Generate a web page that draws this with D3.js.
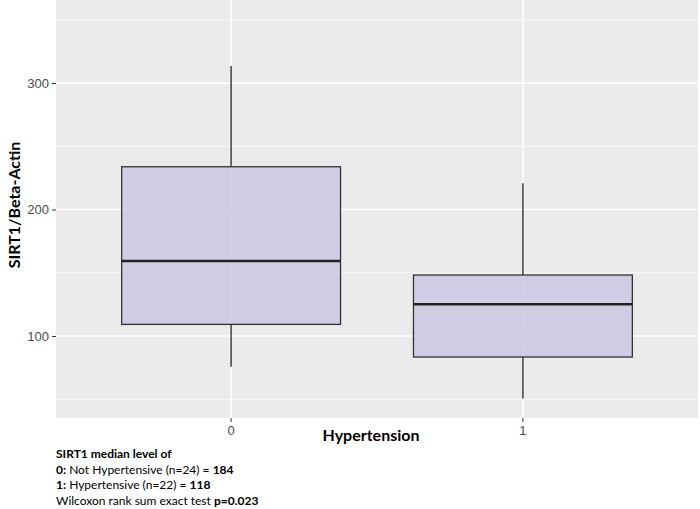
<!DOCTYPE html>
<html>
<head>
<meta charset="utf-8">
<script src="https://cdn.jsdelivr.net/npm/d3@7"></script>
<style>
  body { margin: 0; background: #fff; }
  svg { display: block; }
</style>
</head>
<body>
<div id="chart"></div>
<script>
// Data
const groups = ['0', '1'];
const whiskerLow = [75.7, 50.7];
const q1 = [109.2, 83.4];
const median = [159.3, 125.1];
const q3 = [233.8, 148.2];
const whiskerHigh = [313.4, 220.7];
const yTicks = [100, 200, 300];
const yMinorTicks = [50, 150, 250, 350];
const noteLines = [
  [{ t: 'SIRT1 median level of', b: true }],
  [{ t: '0:', b: true }, { t: ' Not Hypertensive (n=24) = ' }, { t: '184', b: true }],
  [{ t: '1:', b: true }, { t: ' Hypertensive (n=22) = ' }, { t: '118', b: true }],
  [{ t: 'Wilcoxon rank sum exact test ' }, { t: 'p=0.023', b: true }]
];

const W = 700, H = 509;
const panel = { left: 56, right: 698, top: 0, bottom: 418 };
const labelFont = 'Lato, "Open Sans", sans-serif';

const svg = d3.select('#chart').append('svg')
  .attr('width', W).attr('height', H);

// ggplot-style discrete expansion: 0.6 units on each side
const x = d3.scaleBand()
  .domain(groups)
  .range([panel.left, panel.right])
  .paddingOuter(0.1)
  .paddingInner(0);

const y = d3.scaleLinear()
  .domain([35.2, 365.6])
  .range([panel.bottom, panel.top]);

const cx = d => x(d) + x.bandwidth() / 2;

// panel background
svg.append('rect')
  .attr('x', panel.left).attr('y', panel.top)
  .attr('width', panel.right - panel.left)
  .attr('height', panel.bottom - panel.top)
  .attr('fill', '#ebebeb');

// grid lines
svg.append('g').selectAll('line')
  .data(yMinorTicks)
  .join('line')
  .attr('x1', panel.left).attr('x2', panel.right)
  .attr('y1', d => y(d)).attr('y2', d => y(d))
  .attr('stroke', '#fff').attr('stroke-width', 0.7);

svg.append('g').selectAll('line')
  .data(yTicks)
  .join('line')
  .attr('x1', panel.left).attr('x2', panel.right)
  .attr('y1', d => y(d)).attr('y2', d => y(d))
  .attr('stroke', '#fff').attr('stroke-width', 1.5);

svg.append('g').selectAll('line')
  .data(groups)
  .join('line')
  .attr('x1', cx).attr('x2', cx)
  .attr('y1', panel.top).attr('y2', panel.bottom)
  .attr('stroke', '#fff').attr('stroke-width', 1.5);

// boxes
const boxW = x.bandwidth() * 0.75;
const boxes = svg.append('g').selectAll('g')
  .data(groups)
  .join('g');

boxes.append('line')
  .attr('x1', cx).attr('x2', cx)
  .attr('y1', (d, i) => y(whiskerHigh[i]))
  .attr('y2', (d, i) => y(q3[i]))
  .attr('stroke', '#222').attr('stroke-width', 1.3);

boxes.append('line')
  .attr('x1', cx).attr('x2', cx)
  .attr('y1', (d, i) => y(q1[i]))
  .attr('y2', (d, i) => y(whiskerLow[i]))
  .attr('stroke', '#222').attr('stroke-width', 1.3);

boxes.append('rect')
  .attr('x', d => cx(d) - boxW / 2)
  .attr('width', boxW)
  .attr('y', (d, i) => y(q3[i]))
  .attr('height', (d, i) => y(q1[i]) - y(q3[i]))
  .attr('fill', '#c9c4e2').attr('fill-opacity', 0.8)
  .attr('stroke', '#333').attr('stroke-width', 1.3);

boxes.append('line')
  .attr('x1', d => cx(d) - boxW / 2)
  .attr('x2', d => cx(d) + boxW / 2)
  .attr('y1', (d, i) => y(median[i]))
  .attr('y2', (d, i) => y(median[i]))
  .attr('stroke', '#222').attr('stroke-width', 2.6);

// axes
const yAxis = svg.append('g')
  .attr('transform', `translate(${panel.left},0)`)
  .call(d3.axisLeft(y).tickValues(yTicks).tickSize(4).tickPadding(3));
const xAxis = svg.append('g')
  .attr('transform', `translate(0,${panel.bottom})`)
  .call(d3.axisBottom(x).tickSize(4).tickPadding(4));

[yAxis, xAxis].forEach(g => {
  g.select('.domain').remove();
  g.selectAll('.tick line').attr('stroke', '#333');
  g.selectAll('.tick text')
    .attr('fill', '#4d4d4d')
    .style('font-family', '"Liberation Sans", Arial, sans-serif')
    .style('font-size', '13px');
});

// axis titles
svg.append('text')
  .attr('x', 371).attr('y', 441)
  .attr('text-anchor', 'middle')
  .style('font-family', labelFont)
  .style('font-weight', 'bold')
  .style('font-size', '16px')
  .text('Hypertension');

svg.append('text')
  .attr('transform', 'translate(20,205) rotate(-90)')
  .attr('text-anchor', 'middle')
  .style('font-family', labelFont)
  .style('font-weight', 'bold')
  .style('font-size', '16px')
  .text('SIRT1/Beta-Actin');

// note under the chart
const note = svg.append('g')
  .style('font-family', labelFont)
  .style('font-size', '12px')
  .attr('fill', '#000');

noteLines.forEach((parts, i) => {
  const t = note.append('text')
    .attr('x', 56).attr('y', 458 + i * 15.5);
  parts.forEach(p => {
    t.append('tspan')
      .style('font-weight', p.b ? 'bold' : 'normal')
      .text(p.t);
  });
});
</script>
</body>
</html>
